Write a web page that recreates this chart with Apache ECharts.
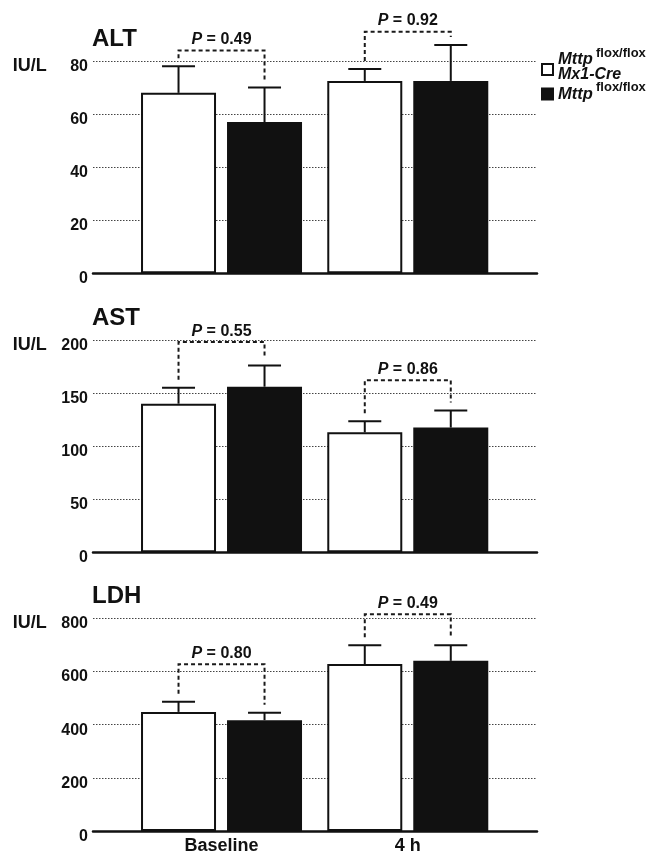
<!DOCTYPE html>
<html>
<head>
<meta charset="utf-8">
<script src="https://cdn.jsdelivr.net/npm/echarts@6/dist/echarts.min.js"></script>
<style>
  html, body { margin: 0; padding: 0; background: #fff; }
  #chart { width: 647px; height: 855px; }
</style>
</head>
<body>
<div id="chart"></div>
<script>
// ---- data (IU/L, mean and SEM) ----
const categories = ['Baseline', '4 h'];

const altCre = [68, 72.5];
const altCreSem = [10, 4.5];
const altFlox = [57, 72.5];
const altFloxSem = [13, 13.5];

const astCre = [140, 113];
const astCreSem = [15, 10.5];
const astFlox = [156, 117.5];
const astFloxSem = [20, 16];

const ldhCre = [448, 628];
const ldhCreSem = [38, 71];
const ldhFlox = [417, 640];
const ldhFloxSem = [28, 59];

// P values for each pair and the level of the bracket above it
const altP = ['0.49', '0.92'];
const altBracket = [84, 91];
const astP = ['0.55', '0.86'];
const astBracket = [198, 162];
const ldhP = ['0.80', '0.49'];
const ldhBracket = [627, 815];

// y-axis tick labels
const altTicks = [0, 20, 40, 60, 80];
const astTicks = [0, 50, 100, 150, 200];
const ldhTicks = [0, 200, 400, 600, 800];

// ---- layout / style ----
const FONT = "'Liberation Sans', Arial, Helvetica, sans-serif";
const INK = '#111';
const BAR_W = 75;
const BAR_GAP = 11;               // px between the two bars of a pair
const STEP = BAR_W + BAR_GAP;     // centre-to-centre distance of a pair
const CAP = 16.5;                 // half width of an error-bar cap
const LEG_GAP = 8;                // space between bracket leg and error cap

const panels = [
  { name: 'ALT', cre: altCre, creSem: altCreSem, flox: altFlox, floxSem: altFloxSem,
    p: altP, bracket: altBracket, ticks: altTicks, top: 61, bottom: 855 - 273.3 },
  { name: 'AST', cre: astCre, creSem: astCreSem, flox: astFlox, floxSem: astFloxSem,
    p: astP, bracket: astBracket, ticks: astTicks, top: 340, bottom: 855 - 552.3 },
  { name: 'LDH', cre: ldhCre, creSem: ldhCreSem, flox: ldhFlox, floxSem: ldhFloxSem,
    p: ldhP, bracket: ldhBracket, ticks: ldhTicks, top: 618.3, bottom: 855 - 831 }
];

const grid = [], xAxis = [], yAxis = [], series = [], graphic = [];

function errorBars(params, api) {
  const cat = api.value(0), mean = api.value(1), sem = api.value(2), g = api.value(3);
  const base = api.coord([cat, mean]);
  const top = api.coord([cat, mean + sem]);
  const x = base[0] + (g === 0 ? -1 : 1) * STEP / 2;
  const st = { stroke: INK, lineWidth: 2 };
  return {
    type: 'group',
    children: [
      { type: 'line', shape: { x1: x, y1: base[1], x2: x, y2: top[1] }, style: st },
      { type: 'line', shape: { x1: x - CAP, y1: top[1], x2: x + CAP, y2: top[1] }, style: st }
    ]
  };
}

function makeBracketRenderer(panel) {
  return function (params, api) {
    const i = params.dataIndex;
    const cx = api.coord([i, 0])[0];
    const yb = api.coord([i, panel.bracket[i]])[1];
    const yl = api.coord([i, panel.cre[i] + panel.creSem[i]])[1] - LEG_GAP;
    const yr = api.coord([i, panel.flox[i] + panel.floxSem[i]])[1] - LEG_GAP;
    const xl = cx - STEP / 2, xr = cx + STEP / 2;
    return {
      type: 'group',
      children: [
        {
          type: 'polyline',
          shape: { points: [[xl, yl], [xl, yb], [xr, yb], [xr, yr]] },
          style: { stroke: '#1a1a1a', lineWidth: 2, lineDash: [4, 3], fill: null }
        },
        {
          type: 'text',
          x: cx, y: yb - 11,
          style: {
            text: '{i|P}{n| = ' + panel.p[i] + '}',
            rich: {
              i: { fontFamily: FONT, fontSize: 16, fontWeight: 'bold', fontStyle: 'italic', fill: INK },
              n: { fontFamily: FONT, fontSize: 16, fontWeight: 'bold', fill: INK }
            },
            fontFamily: FONT, fontSize: 16, fontWeight: 'bold',
            align: 'center', verticalAlign: 'middle',
            textAlign: 'center', textVerticalAlign: 'middle',
            fill: INK
          }
        }
      ]
    };
  };
}

panels.forEach((panel, k) => {
  const t = panel.ticks;
  const yMin = t[0], yMax = t[t.length - 1], yInt = t[1] - t[0];

  // background grid: value labels, dotted guides and the baseline
  grid.push({ left: 93, right: 110, top: panel.top, bottom: panel.bottom });
  // foreground grid holding the bars of the two time points
  grid.push({ left: 128.4, right: 146.1, top: panel.top, bottom: panel.bottom });
  const bg = 2 * k, fg = 2 * k + 1;

  xAxis.push({
    gridIndex: bg, type: 'value', min: 0, max: 1,
    axisLine: { show: true, onZero: true, lineStyle: { color: INK, width: 2.5 } },
    axisTick: { show: false }, axisLabel: { show: false }, splitLine: { show: false }
  });
  xAxis.push({
    gridIndex: fg, type: 'category', data: categories,
    axisLine: { show: false }, axisTick: { show: false },
    axisLabel: {
      show: k === 2, margin: 6, color: INK,
      fontFamily: FONT, fontSize: 18, fontWeight: 'bold'
    }
  });

  yAxis.push({
    gridIndex: bg, type: 'value', min: yMin, max: yMax, interval: yInt,
    axisLine: { show: false }, axisTick: { show: false },
    axisLabel: {
      margin: 5, color: INK, fontFamily: FONT, fontSize: 16, fontWeight: 'bold',
      verticalAlign: 'top', lineHeight: 11
    },
    splitLine: { show: true, lineStyle: { color: '#444', width: 1, type: [1.5, 1.5] } }
  });
  yAxis.push({
    gridIndex: fg, type: 'value', min: yMin, max: yMax, interval: yInt, show: false
  });

  series.push({
    name: 'Mttp flox/flox Mx1-Cre', type: 'bar', xAxisIndex: 2 * k + 1, yAxisIndex: 2 * k + 1,
    data: panel.cre, barWidth: BAR_W, barGap: (BAR_GAP / BAR_W * 100) + '%',
    itemStyle: { color: '#fff', borderColor: INK, borderWidth: 2 }, z: 2
  });
  series.push({
    name: 'Mttp flox/flox', type: 'bar', xAxisIndex: 2 * k + 1, yAxisIndex: 2 * k + 1,
    data: panel.flox, barWidth: BAR_W,
    itemStyle: { color: INK, borderColor: INK, borderWidth: 2 }, z: 2
  });

  const errData = [];
  categories.forEach((c, i) => {
    errData.push([i, panel.cre[i], panel.creSem[i], 0]);
    errData.push([i, panel.flox[i], panel.floxSem[i], 1]);
  });
  series.push({
    type: 'custom', xAxisIndex: 2 * k + 1, yAxisIndex: 2 * k + 1,
    renderItem: errorBars, data: errData, encode: { x: 0, y: 1 }, clip: false, z: 3
  });
  series.push({
    type: 'custom', xAxisIndex: 2 * k + 1, yAxisIndex: 2 * k + 1,
    renderItem: makeBracketRenderer(panel),
    data: categories.map((c, i) => [i, panel.bracket[i]]),
    encode: { x: 0, y: 1 }, clip: false, z: 4
  });

  // panel heading and unit
  graphic.push({
    type: 'text', left: 92, top: panel.top - 23.5 - 10,
    style: { text: panel.name, fontFamily: FONT, fontSize: 24, fontWeight: 'bold', fill: INK }
  });
  graphic.push({
    type: 'text', left: 12.7, top: panel.top + 5 - 9,
    style: { text: 'IU/L', fontFamily: FONT, fontSize: 18, fontWeight: 'bold', fill: INK }
  });
});

// legend
function legendText(text, x, y, size, italic) {
  return {
    type: 'text', x: x, y: y,
    style: {
      text: text, fontFamily: FONT, fontSize: size, fontWeight: 'bold',
      fontStyle: italic ? 'italic' : 'normal', fill: INK,
      align: 'left', verticalAlign: 'middle', textAlign: 'left', textVerticalAlign: 'middle'
    }
  };
}
graphic.push({
  type: 'group', silent: true,
  children: [
    { type: 'rect', shape: { x: 542, y: 64, width: 11, height: 11 },
      style: { fill: '#fff', stroke: INK, lineWidth: 2 } },
    legendText('Mttp', 558, 59.5, 16.5, true),
    legendText('flox/flox', 596, 53, 13, false),
    legendText('Mx1-Cre', 558, 74.5, 16, true),
    { type: 'rect', shape: { x: 542, y: 88.5, width: 11, height: 11 },
      style: { fill: INK, stroke: INK, lineWidth: 2 } },
    legendText('Mttp', 558, 94, 16.5, true),
    legendText('flox/flox', 596, 87, 13, false)
  ]
});

const chart = echarts.init(document.getElementById('chart'), null, { renderer: 'canvas' });
chart.setOption({
  animation: false,
  backgroundColor: '#fff',
  grid: grid,
  xAxis: xAxis,
  yAxis: yAxis,
  series: series,
  graphic: graphic
});
</script>
</body>
</html>
